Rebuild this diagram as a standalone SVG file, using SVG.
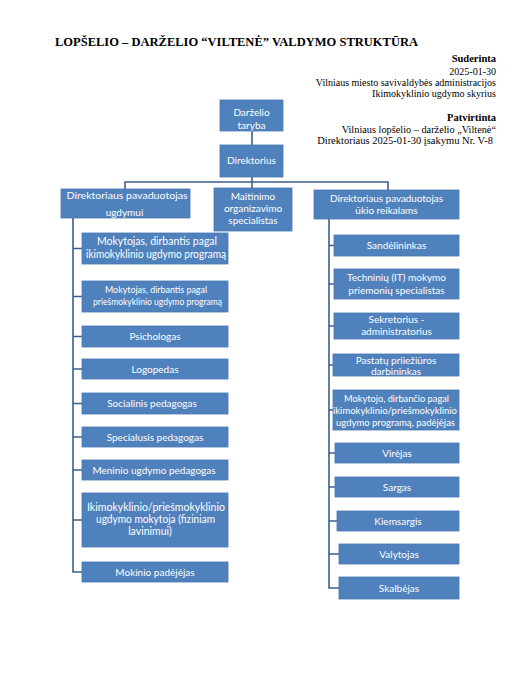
<svg xmlns="http://www.w3.org/2000/svg" width="529" height="680" viewBox="0 0 529 680">
<style>
.bg{fill:#ffffff}
.box{fill:#4F81BD;stroke:#4A78B0;stroke-width:0.8}
.t{font-family:Lato,"Open Sans","Liberation Sans",sans-serif;font-size:10px;fill:#ffffff;text-anchor:middle}
.ts{font-size:9px}
.tl{font-size:10.5px}
.ln{fill:none;stroke:#3C5E8C;stroke-width:1.6}
.hd{font-family:"Liberation Serif","Times New Roman",serif;fill:#000000;text-anchor:end;font-size:10px}
.hb{font-weight:bold;font-size:10.5px}
.title{font-family:"Liberation Serif","Times New Roman",serif;font-weight:bold;font-size:13px;fill:#000000}
</style>
<rect class="bg" x="0" y="0" width="529" height="680"/>
<text class="title" x="55" y="46" textLength="363" lengthAdjust="spacingAndGlyphs">LOPŠELIO – DARŽELIO “VILTENĖ” VALDYMO STRUKTŪRA</text>
<g id="header">
<text class="hd hb" x="496" y="62">Suderinta</text>
<text class="hd" x="496" y="75">2025-01-30</text>
<text class="hd" x="496" y="86">Vilniaus miesto savivaldybės administracijos</text>
<text class="hd" x="496" y="97">Ikimokyklinio ugdymo skyrius</text>
<text class="hd hb" x="496" y="121">Patvirtinta</text>
<text class="hd" x="496" y="133" style="font-size:10.3px">Vilniaus lopšelio – darželio „Viltenė“</text>
<text class="hd" x="493" y="144" style="font-size:10.5px">Direktoriaus 2025-01-30 įsakymu Nr. V-8</text>
</g>
<g id="connectors">
<path class="ln" d="M252 131V145"/>
<path class="ln" d="M252 177V188"/>
<path class="ln" d="M125 189V182H388V190"/>
<path class="ln" d="M73 218V572H82"/>
<path class="ln" d="M73 248.5H82M73 296.5H82M73 336.5H82M73 369H82M73 403.5H82M73 437H82M73 470H82M73 520H82"/>
<path class="ln" d="M329 219V588H339"/>
<path class="ln" d="M329 245.5H334M329 284H334M329 326H334M329 365H333M329 410H333M329 453H335M329 487H335M329 521H337M329 554H339"/>
</g>
<g id="n-taryba"><rect class="box" x="220" y="100" width="63" height="31"/><text class="t" x="251.5" y="116">Darželio</text><text class="t" x="251.5" y="128.5">taryba</text></g>
<g id="n-direktorius"><rect class="box" x="220" y="145" width="63" height="32"/><text class="t" x="251.5" y="164">Direktorius</text></g>
<g id="n-pav-ugdymui"><rect class="box" x="61" y="189" width="129" height="29"/><text class="t" x="127" y="199" textLength="121" lengthAdjust="spacingAndGlyphs">Direktoriaus  pavaduotojas</text><text class="t" x="124.5" y="215.5">ugdymui</text></g>
<g id="n-maitinimo"><rect class="box" x="214" y="188" width="78" height="43"/><text class="t" x="253" y="200">Maitinimo</text><text class="t" x="253" y="212">organizavimo</text><text class="t" x="253" y="224">specialistas</text></g>
<g id="n-pav-ukio"><rect class="box" x="314" y="190" width="145" height="29"/><text class="t" x="386.5" y="202" textLength="113" lengthAdjust="spacingAndGlyphs">Direktoriaus pavaduotojas</text><text class="t" x="386.5" y="214">ūkio reikalams</text></g>
<g id="n-l1"><rect class="box" x="82" y="233" width="146" height="31"/><text class="t tl" x="157" y="245" textLength="120" lengthAdjust="spacingAndGlyphs">Mokytojas, dirbantis pagal</text><text class="t tl" x="156" y="257.5" textLength="140" lengthAdjust="spacingAndGlyphs">ikimokyklinio ugdymo programą</text></g>
<g id="n-l2"><rect class="box" x="82" y="281" width="146" height="31"/><text class="t ts" x="156" y="293" textLength="102" lengthAdjust="spacingAndGlyphs">Mokytojas, dirbantis pagal</text><text class="t ts" x="157.5" y="305" textLength="129" lengthAdjust="spacingAndGlyphs">priešmokyklinio ugdymo programą</text></g>
<g id="n-l3"><rect class="box" x="82" y="326" width="146" height="21"/><text class="t" x="155" y="340">Psichologas</text></g>
<g id="n-l4"><rect class="box" x="82" y="359" width="146" height="20"/><text class="t" x="155" y="372.5">Logopedas</text></g>
<g id="n-l5"><rect class="box" x="82" y="393" width="146" height="21"/><text class="t" x="152" y="407">Socialinis pedagogas</text></g>
<g id="n-l6"><rect class="box" x="82" y="427" width="146" height="20"/><text class="t" x="155" y="440.5">Specialusis pedagogas</text></g>
<g id="n-l7"><rect class="box" x="82" y="460" width="146" height="20"/><text class="t" x="154" y="473.5">Meninio ugdymo pedagogas</text></g>
<g id="n-l8"><rect class="box" x="82" y="493" width="146" height="54"/><text class="t tl" x="156" y="511" textLength="138" lengthAdjust="spacingAndGlyphs">Ikimokyklinio/priešmokyklinio</text><text class="t tl" x="155.5" y="523" textLength="119" lengthAdjust="spacingAndGlyphs">ugdymo mokytoja (fiziniam</text><text class="t tl" x="150" y="535">lavinimui)</text></g>
<g id="n-l9"><rect class="box" x="82" y="562" width="146" height="20"/><text class="t" x="155" y="575.5">Mokinio padėjėjas</text></g>
<g id="n-r1"><rect class="box" x="334" y="235" width="125" height="21"/><text class="t" x="396.5" y="249">Sandėlininkas</text></g>
<g id="n-r2"><rect class="box" x="334" y="269" width="125" height="30"/><text class="t" x="396.5" y="281">Techninių (IT) mokymo</text><text class="t" x="396.5" y="293.5">priemonių specialistas</text></g>
<g id="n-r3"><rect class="box" x="334" y="313" width="125" height="26"/><text class="t" x="396.5" y="322.5">Sekretorius -</text><text class="t" x="396.5" y="335">administratorius</text></g>
<g id="n-r4"><rect class="box" x="333" y="354" width="126" height="22"/><text class="t" x="396" y="363.5">Pastatų priiežiūros</text><text class="t" x="396" y="375">darbininkas</text></g>
<g id="n-r5"><rect class="box" x="333" y="390" width="126" height="40"/><text class="t" x="396.5" y="402" textLength="105" lengthAdjust="spacingAndGlyphs">Mokytojo, dirbančio pagal</text><text class="t" x="395" y="414" textLength="124" lengthAdjust="spacingAndGlyphs">ikimokyklinio/priešmokyklinio</text><text class="t" x="395.5" y="425.5" textLength="119" lengthAdjust="spacingAndGlyphs">ugdymo programą, padėjėjas</text></g>
<g id="n-r6"><rect class="box" x="335" y="443" width="124" height="20"/><text class="t" x="397" y="456.5">Virėjas</text></g>
<g id="n-r7"><rect class="box" x="335" y="477" width="124" height="20"/><text class="t" x="397" y="490.5">Sargas</text></g>
<g id="n-r8"><rect class="box" x="337" y="511" width="122" height="20"/><text class="t" x="398" y="524.5">Kiemsargis</text></g>
<g id="n-r9"><rect class="box" x="339" y="544" width="120" height="20"/><text class="t" x="399" y="557.5">Valytojas</text></g>
<g id="n-r10"><rect class="box" x="339" y="577" width="120" height="22"/><text class="t" x="399" y="591.5">Skalbėjas</text></g>
</svg>
